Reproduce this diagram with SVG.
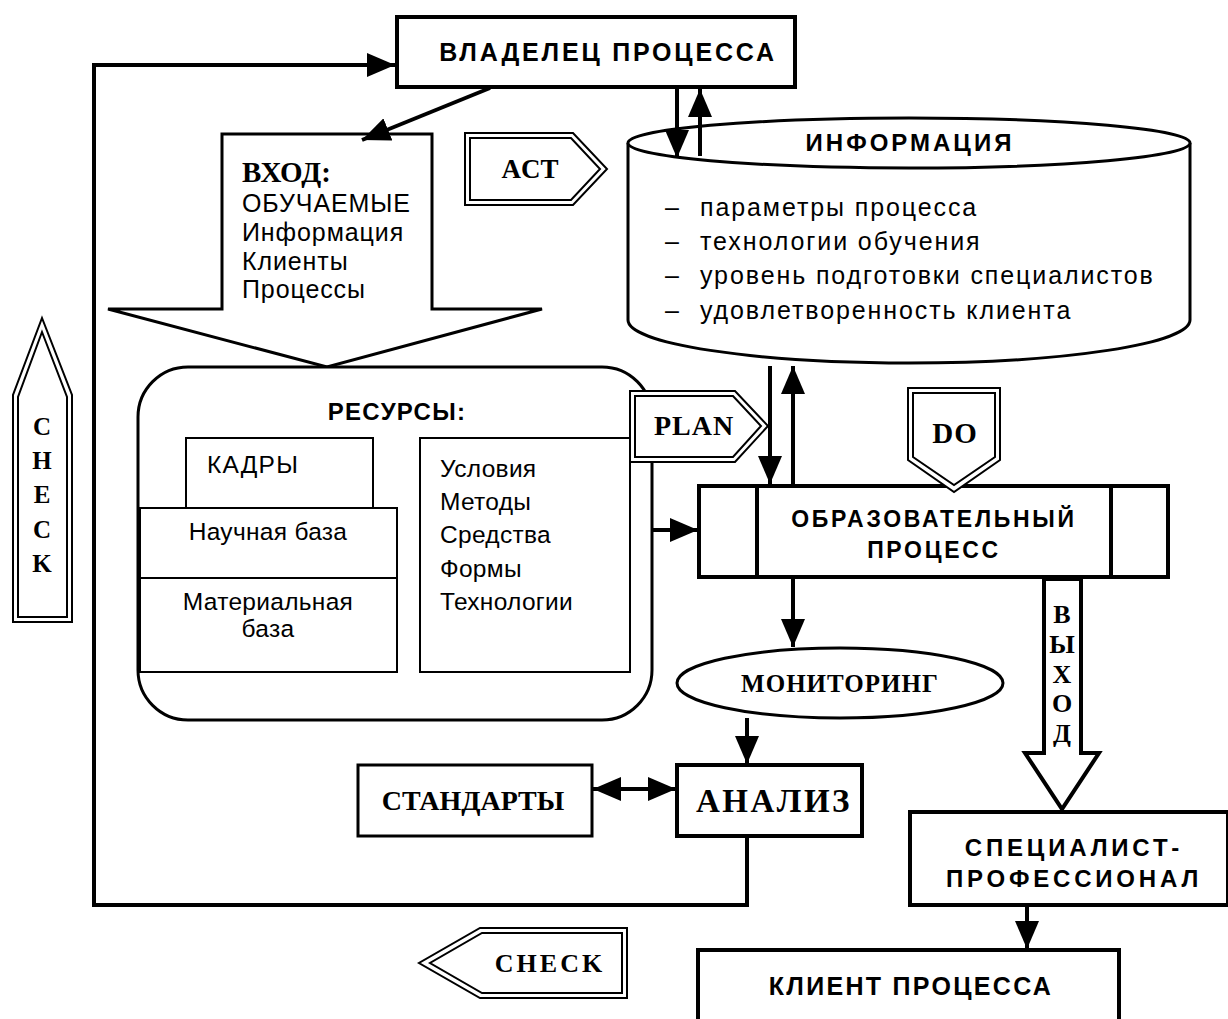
<svg xmlns="http://www.w3.org/2000/svg" width="1228" height="1019" viewBox="0 0 1228 1019">
<style>
.b{fill:#fff;stroke:#000;stroke-width:4}
.m{fill:#fff;stroke:#000;stroke-width:3}
.t{fill:#fff;stroke:#000;stroke-width:2}
.c{fill:none;stroke:#000;stroke-width:4}
.sa{font-family:"Liberation Sans",Arial,sans-serif;font-weight:bold;font-size:24px;letter-spacing:2.5px;text-anchor:middle}
.sn{font-family:"Liberation Sans",Arial,sans-serif;font-size:25px;letter-spacing:1.6px}
.sr{font-family:"Liberation Serif","Times New Roman",serif;font-weight:bold;font-size:25px;text-anchor:middle}
.rs{font-size:24.5px;letter-spacing:0.3px}
</style>
<defs>
<marker id="ah" viewBox="0 0 28 24" refX="28" refY="12" markerWidth="28" markerHeight="24" markerUnits="userSpaceOnUse" orient="auto-start-reverse">
<path d="M0,0 L28,12 L0,24 z" fill="#000"/>
</marker>
</defs>

<g id="check-vertical">
<polygon class="t" points="13,622 13,395 42,318 72,395 72,622" stroke-width="2.5"/>
<polygon class="t" points="18,617 18,397 42,332 67,397 67,617"/>
<text class="sr" x="42" y="435">C</text>
<text class="sr" x="42" y="469">H</text>
<text class="sr" x="42" y="503">E</text>
<text class="sr" x="42" y="538">C</text>
<text class="sr" x="42" y="572">K</text>
</g>

<g id="owner">
<rect class="b" x="397" y="17" width="398" height="70"/>
<text class="sa" x="608" y="61" style="font-size:25px;letter-spacing:2.8px">ВЛАДЕЛЕЦ ПРОЦЕССА</text>
</g>

<g id="input">
<polygon class="m" points="222,134 432,134 432,309 542,309 327,367 108,309 222,309"/>
<text x="242" y="182" style="font-family:'Liberation Serif','Times New Roman',serif;font-weight:bold;font-size:29px">ВХОД:</text>
<g class="sn" style="letter-spacing:0.9px">
<text x="242" y="212">ОБУЧАЕМЫЕ</text>
<text x="242" y="241">Информация</text>
<text x="242" y="270">Клиенты</text>
<text x="242" y="298">Процессы</text>
</g>
</g>

<g id="act">
<polygon class="t" points="465,133 573,133 607,169 573,205 465,205" stroke-width="2.5"/>
<polygon class="t" points="470,138 571,138 600,169 571,200 470,200"/>
<text class="sr" x="530" y="178" style="font-size:27px">ACT</text>
</g>

<g id="information">
<path class="m" d="M628,143 L628,320 A281,43 0 0 0 1190,320 L1190,143"/>
<ellipse class="m" cx="909" cy="143" rx="281" ry="25"/>
<text class="sa" x="910" y="151" style="letter-spacing:3px">ИНФОРМАЦИЯ</text>
<g class="sn" style="letter-spacing:1.9px">
<text x="665" y="216">–</text>
<text x="700" y="216">параметры процесса</text>
<text x="665" y="250">–</text>
<text x="700" y="250">технологии обучения</text>
<text x="665" y="284">–</text>
<text x="700" y="284">уровень подготовки специалистов</text>
<text x="665" y="319">–</text>
<text x="700" y="319">удовлетворенность клиента</text>
</g>
</g>

<g id="resources">
<rect class="m" x="138" y="367" width="514" height="353" rx="50" ry="50"/>
<text class="sa" x="397" y="420" style="letter-spacing:1.3px">РЕСУРСЫ:</text>
<rect class="t" x="186" y="438" width="187" height="70"/>
<text class="sn rs" x="207" y="473" style="letter-spacing:1.2px">КАДРЫ</text>
<rect class="t" x="140" y="508" width="257" height="70"/>
<text class="sn rs" x="268" y="540" text-anchor="middle">Научная база</text>
<rect class="t" x="140" y="578" width="257" height="94"/>
<text class="sn rs" x="268" y="610" text-anchor="middle">Материальная</text>
<text class="sn rs" x="268" y="637" text-anchor="middle">база</text>
<rect class="t" x="420" y="438" width="210" height="234"/>
<text class="sn rs" x="440" y="477">Условия</text>
<text class="sn rs" x="440" y="510">Методы</text>
<text class="sn rs" x="440" y="543">Средства</text>
<text class="sn rs" x="440" y="577">Формы</text>
<text class="sn rs" x="440" y="610">Технологии</text>
</g>

<g id="plan">
<polygon class="t" points="630,391 735,391 768,426 735,462 630,462" stroke-width="2.5"/>
<polygon class="t" points="635,396 733,396 761,426 733,457 635,457"/>
<text class="sr" x="694" y="435" style="font-size:28px;letter-spacing:1px">PLAN</text>
</g>

<g id="process">
<rect class="b" x="699" y="486" width="469" height="91"/>
<line x1="757" y1="486" x2="757" y2="577" stroke="#000" stroke-width="4"/>
<line x1="1111" y1="486" x2="1111" y2="577" stroke="#000" stroke-width="4"/>
<text class="sa" x="934" y="527" style="font-size:23px;letter-spacing:2.7px">ОБРАЗОВАТЕЛЬНЫЙ</text>
<text class="sa" x="934" y="558" style="font-size:23px;letter-spacing:2.7px">ПРОЦЕСС</text>
</g>

<g id="do">
<polygon class="t" points="908,388 1000,388 1000,460 954,492 908,460" stroke-width="2.5"/>
<polygon class="t" points="913,393 995,393 995,457 954,485 913,457"/>
<text class="sr" x="955" y="443" style="font-size:29px;letter-spacing:1px">DO</text>
</g>

<g id="output">
<polygon class="b" points="1044,579 1081,579 1081,753 1099,753 1062,809 1025,753 1044,753"/>
<g class="sr" style="font-size:26px">
<text x="1062" y="623">В</text>
<text x="1062" y="653">Ы</text>
<text x="1062" y="683">Х</text>
<text x="1062" y="712">О</text>
<text x="1062" y="742">Д</text>
</g>
</g>

<g id="monitoring">
<ellipse class="m" cx="840" cy="683" rx="163" ry="35"/>
<text class="sr" x="840" y="692" style="font-size:25px;letter-spacing:1px">МОНИТОРИНГ</text>
</g>

<g id="standards">
<rect class="m" x="358" y="765" width="234" height="71"/>
<text class="sr" x="473" y="810" style="font-size:28px">СТАНДАРТЫ</text>
</g>

<g id="analysis">
<rect class="b" x="677" y="765" width="185" height="71"/>
<text class="sr" x="774" y="812" style="font-size:33px;letter-spacing:2.5px">АНАЛИЗ</text>
</g>

<g id="specialist">
<rect class="b" x="910" y="812" width="318" height="93"/>
<text class="sa" x="1074" y="856" style="font-size:24px;letter-spacing:3.8px">СПЕЦИАЛИСТ-</text>
<text class="sa" x="1074" y="887" style="font-size:24px;letter-spacing:3.8px">ПРОФЕССИОНАЛ</text>
</g>

<g id="client">
<rect class="b" x="698" y="950" width="421" height="80"/>
<text class="sa" x="911" y="995" style="font-size:25px;letter-spacing:2.3px">КЛИЕНТ ПРОЦЕССА</text>
</g>

<g id="check-bottom">
<polygon class="t" points="627,928 480,928 419,963 480,998 627,998" stroke-width="2.5"/>
<polygon class="t" points="622,933 482,933 430,963 482,993 622,993"/>
<text class="sr" x="550" y="972" style="font-size:26px;letter-spacing:3px">CHECK</text>
</g>

<g id="connectors">
<polyline class="c" points="747,836 747,905 94,905 94,65 395,65" marker-end="url(#ah)"/>
<line class="c" x1="490" y1="88" x2="362" y2="140" marker-end="url(#ah)"/>
<line class="c" x1="677" y1="88" x2="677" y2="158" marker-end="url(#ah)"/>
<line class="c" x1="700" y1="156" x2="700" y2="89" marker-end="url(#ah)"/>
<line class="c" x1="770" y1="366" x2="770" y2="484" marker-end="url(#ah)"/>
<line class="c" x1="793" y1="484" x2="793" y2="366" marker-end="url(#ah)"/>
<line class="c" x1="652" y1="530" x2="698" y2="530" stroke-width="3" marker-end="url(#ah)"/>
<line class="c" x1="793" y1="578" x2="793" y2="647" marker-end="url(#ah)"/>
<line class="c" x1="747" y1="718" x2="747" y2="764" marker-end="url(#ah)"/>
<line class="c" x1="593" y1="789" x2="676" y2="789" stroke-width="3" marker-start="url(#ah)" marker-end="url(#ah)"/>
<line class="c" x1="1027" y1="906" x2="1027" y2="949" stroke-width="3" marker-end="url(#ah)"/>
</g>
</svg>
